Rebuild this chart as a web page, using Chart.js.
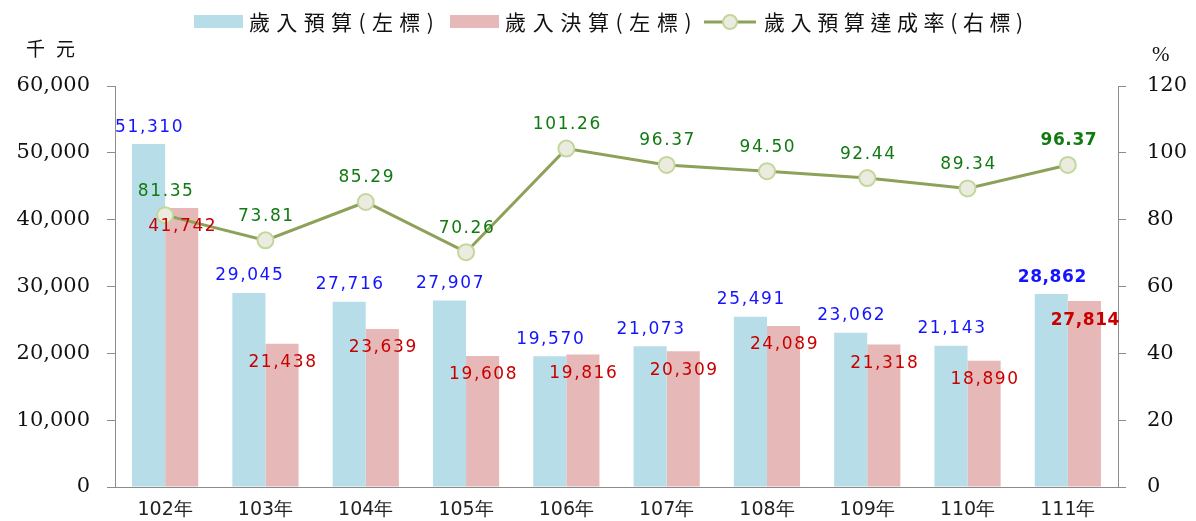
<!DOCTYPE html>
<html lang="zh-Hant">
<head>
  <meta charset="UTF-8" />
  <title>歲入預算與決算</title>
  <script src="https://cdn.jsdelivr.net/npm/chart.js"></script>
  <style>
    * { margin: 0; padding: 0; box-sizing: border-box; }
    body { background: #fff; width: 1196px; height: 521px; overflow: hidden; }
    .wrap { position: relative; width: 1196px; height: 521px; }
  </style>
</head>
<body>
<div class="wrap"><canvas id="chart"></canvas></div>

<script>
  const years = ['102年', '103年', '104年', '105年', '106年', '107年', '108年', '109年', '110年', '111年'];
  const budget = [51310, 29045, 27716, 27907, 19570, 21073, 25491, 23062, 21143, 28862];
  const actual = [41742, 21438, 23639, 19608, 19816, 20309, 24089, 21318, 18890, 27814];
  const rate = [81.35, 73.81, 85.29, 70.26, 101.26, 96.37, 94.50, 92.44, 89.34, 96.37];
  const legendNames = ['歲入預算(左標)', '歲入決算(左標)', '歲入預算達成率(右標)'];

  const blue = '#b7dde8', pink = '#e6b9b8', olive = '#8da15a';
  const cjk = "'Noto Sans CJK TC', 'Noto Sans CJK SC', sans-serif";
  const serif = '"DejaVu Serif", serif';

  const fmt = n => n.toLocaleString('en-US');

  function spacedText(ctx, text, x, y, spacing) {
    ctx.letterSpacing = spacing + 'px';
    ctx.fillText(text, x, y);
    ctx.letterSpacing = '0px';
  }

  // value labels on bars and points (dataset 0 = line, 1 = budget, 2 = actual)
  const valueLabels = {
    id: 'valueLabels',
    afterDatasetsDraw(chart) {
      const ctx = chart.ctx;
      const last = years.length - 1;
      ctx.save();
      ctx.textAlign = 'center';
      ctx.textBaseline = 'middle';
      const sets = [
        { meta: chart.getDatasetMeta(1), vals: budget, color: '#1414ff', dy: -17, txt: fmt },
        { meta: chart.getDatasetMeta(2), vals: actual, color: '#c80000', dy: 19, txt: fmt },
        { meta: chart.getDatasetMeta(0), vals: rate, color: '#117a11', dy: -24, txt: v => v.toFixed(2) }
      ];
      sets.forEach(s => {
        s.meta.data.forEach((el, i) => {
          const bold = i === last;
          ctx.font = (bold ? 'bold ' : '') + '17px "DejaVu Sans", sans-serif';
          ctx.fillStyle = s.color;
          spacedText(ctx, s.txt(s.vals[i]), el.x + 1, el.y + s.dy, bold ? 0.6 : 1.6);
        });
      });
      ctx.restore();
    }
  };

  // legend + unit captions
  const extras = {
    id: 'extras',
    afterDraw(chart) {
      const ctx = chart.ctx;
      ctx.save();
      ctx.textBaseline = 'middle';
      ctx.textAlign = 'left';

      ctx.fillStyle = blue;
      ctx.fillRect(194, 15, 49, 13);
      ctx.fillStyle = pink;
      ctx.fillRect(450, 15, 49, 13);
      ctx.strokeStyle = olive;
      ctx.lineWidth = 3;
      ctx.beginPath(); ctx.moveTo(704, 22); ctx.lineTo(756, 22); ctx.stroke();
      ctx.beginPath(); ctx.arc(730, 22, 7, 0, Math.PI * 2);
      ctx.fillStyle = '#ecebe0'; ctx.fill();
      ctx.lineWidth = 2; ctx.strokeStyle = '#c3d69b'; ctx.stroke();

      ctx.font = '21px ' + cjk;
      ctx.fillStyle = '#111';
      const spots = [[249, 188], [505, 190], [764, 262]];
      legendNames.forEach((t, i) => {
        const w0 = ctx.measureText(t).width;
        const sp = (spots[i][1] - w0) / (t.length - 0.5);
        spacedText(ctx, t, spots[i][0], 22, sp);
      });

      ctx.font = '19px ' + cjk;
      spacedText(ctx, '千元', 26, 49, 11);
      ctx.font = '21px "Liberation Serif", serif';
      ctx.fillText('%', 1152, 55);
      ctx.restore();
    }
  };

  const axisLine = { display: true, color: '#8c8c8c', width: 1 };

  new Chart(document.getElementById('chart'), {
    data: {
      labels: years,
      datasets: [
        { type: 'line', label: legendNames[2], data: rate, yAxisID: 'y1', order: 0,
          borderColor: olive, borderWidth: 3, pointRadius: 8, pointHoverRadius: 8,
          pointBackgroundColor: '#ecebe0', pointBorderColor: '#c3d69b', pointBorderWidth: 2 },
        { type: 'bar', label: legendNames[0], data: budget, yAxisID: 'y', order: 1,
          backgroundColor: blue, categoryPercentage: 0.66, barPercentage: 1.0 },
        { type: 'bar', label: legendNames[1], data: actual, yAxisID: 'y', order: 1,
          backgroundColor: pink, categoryPercentage: 0.66, barPercentage: 1.0 }
      ]
    },
    options: {
      responsive: true,
      maintainAspectRatio: false,
      animation: false,
      layout: { padding: { top: 86, left: 0, right: 0, bottom: 0 } },
      plugins: { legend: { display: false }, tooltip: { enabled: false } },
      scales: {
        x: {
          grid: { drawOnChartArea: false, drawTicks: false },
          border: axisLine,
          ticks: { color: '#222', padding: 12, font: { family: '"DejaVu Sans", sans-serif', size: 19 } },
          afterFit: s => { s.height = 34; }
        },
        y: {
          position: 'left', min: 0, max: 60000,
          grid: { drawOnChartArea: false, drawTicks: true, tickLength: 8, color: '#8c8c8c' },
          border: axisLine,
          ticks: { stepSize: 10000, padding: 17, color: '#111', callback: v => fmt(v),
                   font: { family: serif, size: 21 } },
          afterFit: s => { s.width = 115; }
        },
        y1: {
          position: 'right', min: 0, max: 120,
          grid: { drawOnChartArea: false, drawTicks: true, tickLength: 8, color: '#8c8c8c' },
          border: axisLine,
          ticks: { stepSize: 20, padding: 21, color: '#111',
                   font: { family: serif, size: 21 } },
          afterFit: s => { s.width = 78; }
        }
      }
    },
    plugins: [valueLabels, extras]
  });
</script>
</body>
</html>
